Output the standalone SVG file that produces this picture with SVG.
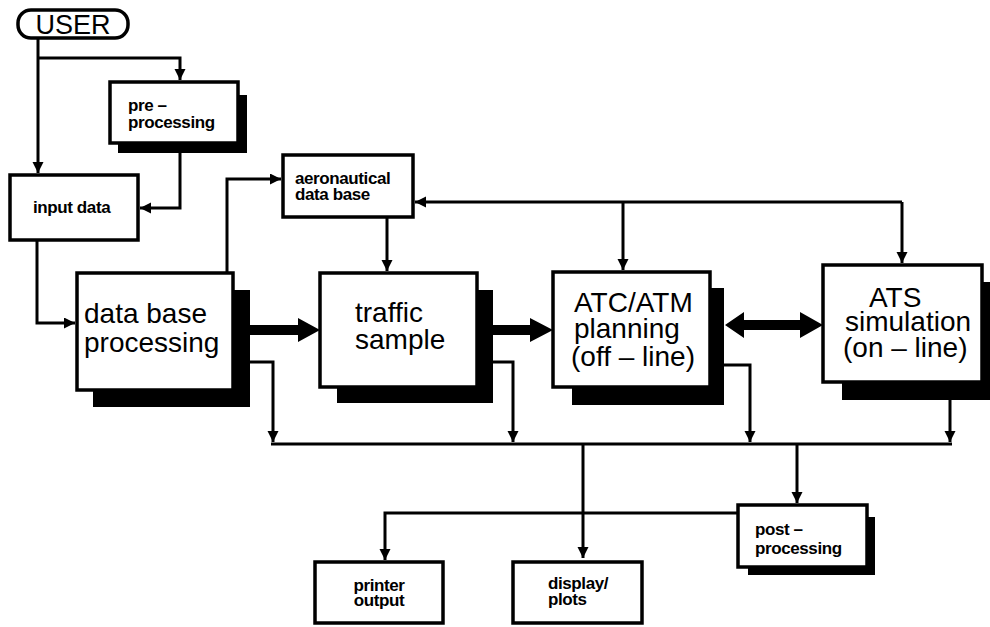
<svg xmlns="http://www.w3.org/2000/svg" width="990" height="627" viewBox="0 0 990 627">
<style>
.box{fill:#fff;stroke:#000;stroke-width:3.5}
.sh{fill:#000}
.ln{fill:none;stroke:#000;stroke-width:3}
.big{font-family:"Liberation Sans",Arial,sans-serif;font-size:28px;fill:#000}
.sm{font-family:"Liberation Sans",Arial,sans-serif;font-size:17px;font-weight:bold;fill:#000;letter-spacing:-0.4px}
</style>
<defs>
<marker id="ah" markerUnits="userSpaceOnUse" markerWidth="12" markerHeight="12" refX="11" refY="5.5" orient="auto">
<path d="M0,0 L11,5.5 L0,11 z" fill="#000"/>
</marker>
</defs>
<rect width="990" height="627" fill="#fff"/>

<g id="connectors">
<path class="ln" d="M38,38 V173" marker-end="url(#ah)"/>
<path class="ln" d="M38,58 H180 V80" marker-end="url(#ah)"/>
<path class="ln" d="M180,150 V208 H140" marker-end="url(#ah)"/>
<path class="ln" d="M37,240 V323 H75" marker-end="url(#ah)"/>
<path class="ln" d="M227,273 V179 H281" marker-end="url(#ah)"/>
<path class="ln" d="M902,202 H415" marker-end="url(#ah)"/>
<path class="ln" d="M623,202 V270" marker-end="url(#ah)"/>
<path class="ln" d="M902,202 V263" marker-end="url(#ah)"/>
<path class="ln" d="M387,217 V271" marker-end="url(#ah)"/>
<polygon points="250,325 298,325 298,318 320,330 298,342 298,335 250,335" fill="#000"/>
<polygon points="493,325 530,325 530,318 553,330 530,342 530,335 493,335" fill="#000"/>
<polygon points="725,325 744,312 744,320 800,320 800,312 823,325 800,338 800,330 744,330 744,338" fill="#000"/>
<path class="ln" d="M250,362 H273 V442" marker-end="url(#ah)"/>
<path class="ln" d="M493,362 H513 V442" marker-end="url(#ah)"/>
<path class="ln" d="M724,365 H750 V442" marker-end="url(#ah)"/>
<path class="ln" d="M950,400 V442" marker-end="url(#ah)"/>
<path class="ln" d="M271,444 H952"/>
<path class="ln" d="M583,444 V558" marker-end="url(#ah)"/>
<path class="ln" d="M797,444 V503" marker-end="url(#ah)"/>
<path class="ln" d="M738,513 H385 V560" marker-end="url(#ah)"/>
</g>

<g id="user">
<rect class="box" x="18" y="10" width="110" height="28" rx="13"/>
<text x="73" y="34" text-anchor="middle" font-family="Liberation Sans, Arial, sans-serif" font-size="27">USER</text>
</g>

<g id="preprocessing">
<rect class="sh" x="118" y="95" width="129" height="58"/>
<rect class="box" x="110" y="82" width="128" height="61"/>
<text class="sm" x="128" y="111">pre –</text>
<text class="sm" x="128" y="128">processing</text>
</g>

<g id="inputdata">
<rect class="box" x="10" y="175" width="128" height="65"/>
<text class="sm" x="33" y="213">input data</text>
</g>

<g id="aeronautical">
<rect class="box" x="283" y="155" width="130" height="62"/>
<text class="sm" x="295" y="184">aeronautical</text>
<text class="sm" x="295" y="200">data base</text>
</g>

<g id="dbprocessing">
<rect class="sh" x="93" y="290" width="157" height="117"/>
<rect class="box" x="77" y="273" width="156" height="117"/>
<text class="big" x="84" y="323">data base</text>
<text class="big" x="84" y="352" font-size="29">processing</text>
</g>

<g id="traffic">
<rect class="sh" x="337" y="290" width="156" height="113"/>
<rect class="box" x="320" y="273" width="157" height="114"/>
<text class="big" x="355" y="322">traffic</text>
<text class="big" x="355" y="349">sample</text>
</g>

<g id="atcatm">
<rect class="sh" x="572" y="288" width="152" height="117"/>
<rect class="box" x="553" y="272" width="157" height="115"/>
<text class="big" x="574" y="312" font-size="27">ATC/ATM</text>
<text class="big" x="574" y="338" font-size="27">planning</text>
<text class="big" x="571" y="366" font-size="27">(off – line)</text>
</g>

<g id="ats">
<rect class="sh" x="842" y="282" width="150" height="118"/>
<rect class="box" x="823" y="265" width="159" height="117"/>
<text class="big" x="869" y="307" font-size="27">ATS</text>
<text class="big" x="845" y="331" font-size="27">simulation</text>
<text class="big" x="843" y="357" font-size="27">(on – line)</text>
</g>

<g id="postprocessing">
<rect class="sh" x="748" y="517" width="127" height="58"/>
<rect class="box" x="738" y="505" width="129" height="62"/>
<text class="sm" x="755" y="535">post –</text>
<text class="sm" x="755" y="554">processing</text>
</g>

<g id="printer">
<rect class="box" x="315" y="562" width="128" height="61"/>
<text class="sm" x="379" y="591" text-anchor="middle" font-size="16">printer</text>
<text class="sm" x="379" y="606" text-anchor="middle" font-size="16">output</text>
</g>

<g id="display">
<rect class="box" x="513" y="562" width="129" height="61"/>
<text class="sm" x="548" y="589">display/</text>
<text class="sm" x="548" y="605">plots</text>
</g>
</svg>
